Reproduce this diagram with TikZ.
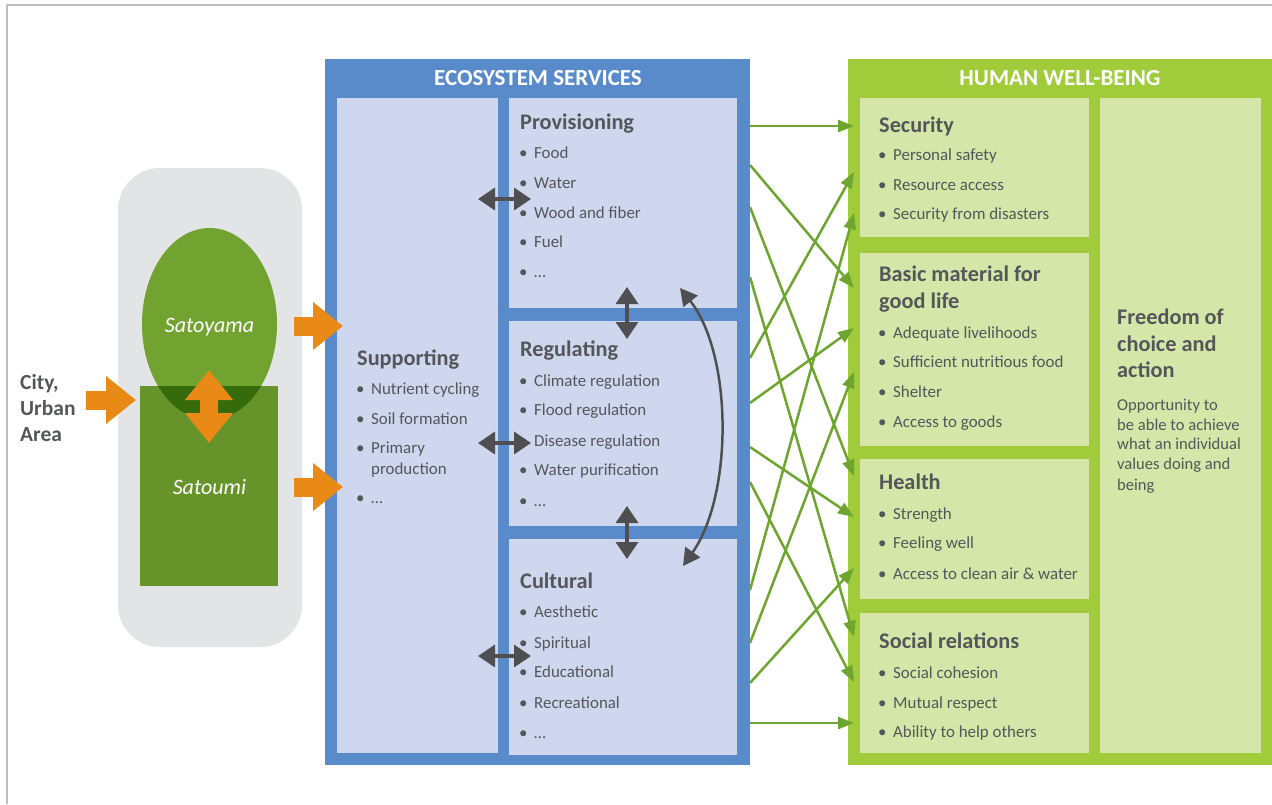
\documentclass[tikz,border=0pt]{standalone}
\usepackage{fontspec}
\setmainfont{Carlito}
\usetikzlibrary{arrows.meta,shapes.geometric}
\definecolor{txt}{HTML}{55565A}
\definecolor{esblue}{HTML}{598BCB}
\definecolor{eslight}{HTML}{CED7EE}
\definecolor{hwgreen}{HTML}{A0CB3A}
\definecolor{hwlight}{HTML}{D5E6A8}
\definecolor{garr}{HTML}{6DA52F}
\definecolor{darr}{HTML}{4F4F51}
\definecolor{orng}{HTML}{E98A16}
\definecolor{greyarea}{HTML}{E3E4E6}
\definecolor{satoy}{HTML}{72A331}
\definecolor{satou}{HTML}{66942A}
\definecolor{overl}{HTML}{366B0C}
\definecolor{framec}{HTML}{BDBDBD}
\newcommand{\mybul}{\makebox[15pt][l]{\textbullet}}
\begin{document}
\begin{tikzpicture}[x=1pt,y=-1pt,
 box/.style={inner sep=0pt, outer sep=0pt, anchor=north west},
 ttl/.style={anchor=base west, inner sep=0pt, text=txt, font=\fontsize{22.3}{22}\selectfont\bfseries},
 itm/.style={anchor=base west, inner sep=0pt, text=txt, font=\fontsize{16.9}{17}\selectfont},
 para/.style={anchor=base west, inner sep=0pt, text=txt, font=\fontsize{16.6}{17}\selectfont},
 hdr/.style={anchor=base, inner sep=0pt, text=white, font=\fontsize{23}{23}\selectfont\bfseries},
 sato/.style={inner sep=0pt, text=white, font=\fontsize{22}{22}\selectfont\itshape},
 garrow/.style={draw=garr, line width=2.5pt, -{Triangle[length=16pt,width=12pt]}},
 darrow/.style={draw=darr, line width=3.5pt, {Triangle[length=17pt,width=22pt]}-{Triangle[length=17pt,width=22pt]}},
 carrow/.style={draw=darr, line width=2.5pt, {Triangle[length=17pt,width=18pt]}-{Triangle[length=17pt,width=18pt]}},
 oarrow/.style={draw=orng, line width=19pt, -{Triangle[length=30pt,width=46pt]}},
 oarrow2/.style={draw=orng, line width=18pt, {Triangle[length=30pt,width=46pt]}-{Triangle[length=30pt,width=46pt]}},
]
\useasboundingbox (0,0) rectangle (1272,804);
\draw[framec, line width=1.5pt] (7,804) -- (7,5) -- (1272,5);

% left part
\node[box, fill=greyarea, rounded corners=42pt, minimum width=184pt, minimum height=479pt] (area) at (118,168) {};
\node[ellipse, fill=satoy, minimum width=135pt, minimum height=192pt, inner sep=0pt] (satoyama) at (209.5,324) {};
\node[box, fill=satou, minimum width=138pt, minimum height=200pt] (satoumi) at (140,386) {};
\begin{scope}
 \clip (209.5,324) ellipse [x radius=67.5pt, y radius=96pt];
 \fill[overl] (140,386) rectangle (278,586);
\end{scope}
\node[sato] (lsatoyama) at (209.5,327) {Satoyama};
\node[sato] (lsatoumi) at (209.5,487) {Satoumi};
\node[ttl, font=\fontsize{21.5}{22}\selectfont\bfseries] (city1) at (20,389) {City,};
\node[ttl, font=\fontsize{21.5}{22}\selectfont\bfseries] (city2) at (20,415) {Urban};
\node[ttl, font=\fontsize{21.5}{22}\selectfont\bfseries] (city3) at (20,441) {Area};

% ecosystem services
\node[box, fill=esblue, minimum width=425pt, minimum height=706pt] (es) at (325,59) {};
\node[hdr] (eshdr) at (538,85) {ECOSYSTEM SERVICES};
\node[box, fill=eslight, minimum width=161pt, minimum height=655pt] (sup) at (337,98) {};
\node[box, fill=eslight, minimum width=228pt, minimum height=210pt] (prov) at (509,98) {};
\node[box, fill=eslight, minimum width=228pt, minimum height=205pt] (reg) at (509,321) {};
\node[box, fill=eslight, minimum width=228pt, minimum height=216pt] (cult) at (509,539) {};

\node[ttl] (tprov) at (520,129) {Provisioning};
\node[itm] (p1) at (519,158) {\mybul Food};
\node[itm] (p2) at (519,188) {\mybul Water};
\node[itm] (p3) at (519,218) {\mybul Wood and fiber};
\node[itm] (p4) at (519,247) {\mybul Fuel};
\node[itm] (p5) at (519,277) {\mybul \ldots};

\node[ttl] (treg) at (520,356) {Regulating};
\node[itm] (r1) at (519,386) {\mybul Climate regulation};
\node[itm] (r2) at (519,415) {\mybul Flood regulation};
\node[itm] (r3) at (519,446) {\mybul Disease regulation};
\node[itm] (r4) at (519,475) {\mybul Water purification};
\node[itm] (r5) at (519,506) {\mybul \ldots};

\node[ttl] (tcult) at (520,588) {Cultural};
\node[itm] (c1) at (519,617) {\mybul Aesthetic};
\node[itm] (c2) at (519,648) {\mybul Spiritual};
\node[itm] (c3) at (519,677) {\mybul Educational};
\node[itm] (c4) at (519,708) {\mybul Recreational};
\node[itm] (c5) at (519,738) {\mybul \ldots};

\node[ttl] (tsup) at (357,365) {Supporting};
\node[itm] (s1) at (356,394) {\mybul Nutrient cycling};
\node[itm] (s2) at (356,424) {\mybul Soil formation};
\node[itm] (s3) at (356,453) {\mybul Primary};
\node[itm] (s3b) at (371,474) {production};
\node[itm] (s4) at (356,503) {\mybul \ldots};

% orange arrows
\coordinate (oc1) at (86,400); \coordinate (oc2) at (136,400);
\coordinate (oy1) at (294,326); \coordinate (oy2) at (343,326);
\coordinate (ou1) at (294,487); \coordinate (ou2) at (343,487);
\coordinate (ov1) at (209,370); \coordinate (ov2) at (209,443);
\draw[oarrow] (oc1) -- (oc2);
\draw[oarrow] (oy1) -- (oy2);
\draw[oarrow] (ou1) -- (ou2);
\draw[oarrow2] (ov1) -- (ov2);

% dark arrows
\coordinate (d1a) at (478,199); \coordinate (d1b) at (531,199);
\coordinate (d2a) at (478,443); \coordinate (d2b) at (531,443);
\coordinate (d3a) at (478,656); \coordinate (d3b) at (531,656);
\coordinate (d4a) at (627,287); \coordinate (d4b) at (627,339);
\coordinate (d5a) at (627,506); \coordinate (d5b) at (627,559);
\coordinate (d6a) at (680,288); \coordinate (d6b) at (683,566);
\draw[darrow] (d1a) -- (d1b);
\draw[darrow] (d2a) -- (d2b);
\draw[darrow] (d3a) -- (d3b);
\draw[darrow] (d4a) -- (d4b);
\draw[darrow] (d5a) -- (d5b);
\draw[carrow] (d6a) .. controls (733,355) and (733,495) .. (d6b);

% human well-being
\node[box, fill=hwgreen, minimum width=424pt, minimum height=706pt] (hw) at (848,59) {};
\node[hdr] (hwhdr) at (1060,85) {HUMAN WELL-BEING};
\node[box, fill=hwlight, minimum width=229pt, minimum height=139pt] (sec) at (860,98) {};
\node[box, fill=hwlight, minimum width=229pt, minimum height=193pt] (basic) at (860,253) {};
\node[box, fill=hwlight, minimum width=229pt, minimum height=140pt] (health) at (860,459) {};
\node[box, fill=hwlight, minimum width=229pt, minimum height=140pt] (social) at (860,613) {};
\node[box, fill=hwlight, minimum width=161pt, minimum height=655pt] (freedom) at (1100,98) {};

\node[ttl] (tsec) at (879,132) {Security};
\node[itm] (w1) at (878,160) {\mybul Personal safety};
\node[itm] (w2) at (878,190) {\mybul Resource access};
\node[itm] (w3) at (878,219) {\mybul Security from disasters};

\node[ttl] (tbas1) at (879,281) {Basic material for};
\node[ttl] (tbas2) at (879,308) {good life};
\node[itm] (b1) at (878,338) {\mybul Adequate livelihoods};
\node[itm] (b2) at (878,367) {\mybul Sufficient nutritious food};
\node[itm] (b3) at (878,397) {\mybul Shelter};
\node[itm] (b4) at (878,427) {\mybul Access to goods};

\node[ttl] (thea) at (879,489) {Health};
\node[itm] (h1) at (878,519) {\mybul Strength};
\node[itm] (h2) at (878,548) {\mybul Feeling well};
\node[itm] (h3) at (878,579) {\mybul Access to clean air \& water};

\node[ttl] (tsoc) at (879,648) {Social relations};
\node[itm] (o1) at (878,678) {\mybul Social cohesion};
\node[itm] (o2) at (878,708) {\mybul Mutual respect};
\node[itm] (o3) at (878,737) {\mybul Ability to help others};

\node[ttl] (tf1) at (1117,324) {Freedom of};
\node[ttl] (tf2) at (1117,351) {choice and};
\node[ttl] (tf3) at (1117,377) {action};
\node[para] (f1) at (1117,410) {Opportunity to};
\node[para] (f2) at (1117,430) {be able to achieve};
\node[para] (f3) at (1117,449) {what an individual};
\node[para] (f4) at (1117,469) {values doing and};
\node[para] (f5) at (1117,490) {being};

% green arrows
\foreach \n/\a/\b in {g1/126/126, g2/165/288, g3/207/476, g4/277/637,
                      g5/358/172, g6/403/328, g7/447/517, g8/482/682,
                      g9/590/213, g10/643/372, g11/683/568, g12/723/723}{
  \coordinate (\n s) at (750,\a);
  \coordinate (\n e) at (854,\b);
  \draw[garrow] (\n s) -- (\n e);
}
\end{tikzpicture}
\end{document}
